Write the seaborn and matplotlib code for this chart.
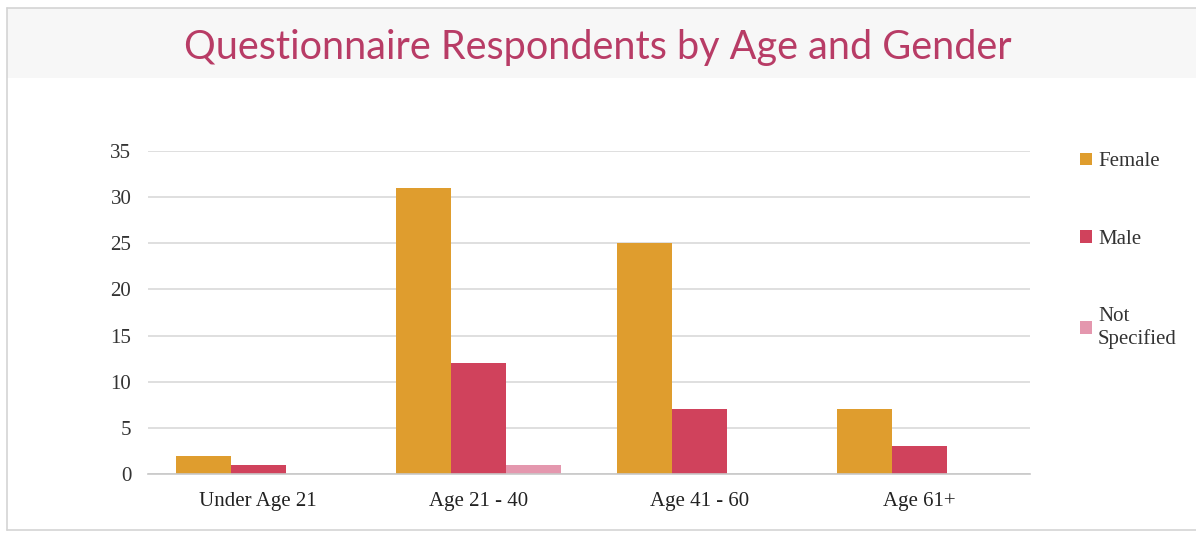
import matplotlib
matplotlib.use("Agg")
import matplotlib.pyplot as plt
from matplotlib.patches import Rectangle
from matplotlib.lines import Line2D
import pandas as pd
import seaborn as sns

# Respondent counts per age band
age_groups = ["Under Age 21", "Age 21 - 40", "Age 41 - 60", "Age 61+"]
genders = ["Female", "Male", "Not\nSpecified"]
female = [2, 31, 25, 7]
male = [1, 12, 7, 3]
not_specified = [0, 1, 0, 0]
y_ticks = [0, 5, 10, 15, 20, 25, 30, 35]

colors = ["#DF9D2E", "#D0425C", "#E497AE"]

df = pd.DataFrame({
    "age": age_groups * 3,
    "gender": [genders[0]] * 4 + [genders[1]] * 4 + [genders[2]] * 4,
    "count": female + male + not_specified,
})

sns.set_theme(style="white")
plt.rcParams["font.family"] = ["Liberation Serif", "DejaVu Serif"]

fig = plt.figure(figsize=(11.96, 5.33), dpi=100)
fig.patch.set_facecolor("white")

# frame and shaded title band
fig.add_artist(Rectangle((7 / 1196, 1 - 78 / 533), 1 - 7 / 1196, 70 / 533,
                         transform=fig.transFigure, facecolor="#F7F7F7",
                         edgecolor="none", zorder=0))
fig.add_artist(Line2D([7 / 1196, 1], [1 - 8 / 533] * 2, transform=fig.transFigure,
                      color="#D4D4D4", lw=1.2))
fig.add_artist(Line2D([7 / 1196] * 2, [1 - 8 / 533, 1 - 530 / 533],
                      transform=fig.transFigure, color="#D4D4D4", lw=1.2))
fig.add_artist(Line2D([7 / 1196, 1], [1 - 530 / 533] * 2, transform=fig.transFigure,
                      color="#D4D4D4", lw=1.2))

ax = fig.add_axes([148 / 1196, 1 - 474 / 533, (1030 - 148) / 1196, (474 - 151) / 533])
ax.set_facecolor("none")

sns.barplot(data=df, x="age", y="count", hue="gender", order=age_groups,
            hue_order=genders, palette=colors, width=0.75, saturation=1,
            linewidth=0, ax=ax, legend=False)

ax.set_ylim(0, 35)
ax.set_xlim(-0.5, 3.5)
ax.set_yticks(y_ticks)
ax.set_yticklabels([str(v) for v in y_ticks], fontsize=15, color="#333333")
ax.tick_params(axis="x", labelsize=15, colors="#222222", pad=13, length=0)
ax.tick_params(axis="y", pad=12, length=0)
ax.set_xlabel("")
ax.set_ylabel("")
ax.yaxis.grid(True, color="#D9D9D9", lw=1.2)
ax.set_axisbelow(True)
for s in ["left", "right", "top"]:
    ax.spines[s].set_visible(False)
ax.spines["bottom"].set_color("#C8C8C8")
ax.spines["bottom"].set_linewidth(1.2)

fig.text(0.5, 1 - 47 / 533, "Questionnaire Respondents by Age and Gender",
         ha="center", va="center", fontsize=28.5, color="#B83C66",
         family=["Lato", "DejaVu Sans"], fontweight="normal")

# legend
handles = [Rectangle((0, 0), 1, 1, facecolor=c, edgecolor="none") for c in colors]
leg = fig.legend(handles, genders, loc="upper left",
                 bbox_to_anchor=(1072 / 1196, 1 - 144 / 533), frameon=False,
                 fontsize=15, handlelength=0.55, handleheight=0.55,
                 handletextpad=0.3, labelspacing=2.8, borderaxespad=0)
for t in leg.get_texts():
    t.set_color("#333333")

fig.savefig("out.png", dpi=100)
